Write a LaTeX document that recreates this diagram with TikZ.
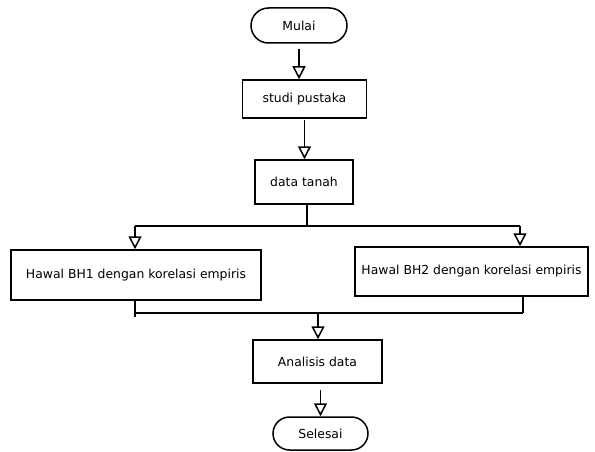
\documentclass[tikz,border=0pt]{standalone}
\usepackage{fontspec}
\setmainfont{DejaVu Sans}
\usetikzlibrary{arrows.meta, positioning, shapes.misc}

\begin{document}
\begin{tikzpicture}[x=1pt, y=-1pt,
    proc/.style={draw, line width=1.5pt, inner sep=0pt, font=\fontsize{12.4}{14}\selectfont},
    term/.style={proc, rounded rectangle},
    flow/.style={line width=1.5pt, -{Triangle[open, length=13pt, width=13pt, line width=1.5pt]}},
    link/.style={line width=1.5pt}]
  \useasboundingbox (0,0) rectangle (595,452);

  % Boxes
  \node[term, minimum width=96pt, minimum height=35pt] (mulai) at (299,25.5) {Mulai};
  \node[proc, minimum width=124pt, minimum height=38pt] (studi) at (304.5,99) {studi pustaka};
  \node[proc, minimum width=98pt, minimum height=44pt] (tanah) at (304,182) {data tanah};
  \node[proc, minimum width=250pt, minimum height=50pt] (bhA) at (136,275)
    {Hawal BH1 dengan korelasi empiris};
  \node[proc, minimum width=233pt, minimum height=49pt] (bhB) at (471.5,271.5)
    {Hawal BH2 dengan korelasi empiris};
  \node[proc, minimum width=129pt, minimum height=43pt] (analisis) at (317.5,361.5) {Analisis data};
  \node[term, minimum width=95pt, minimum height=33pt] (selesai) at (320.5,433.5) {Selesai};

  % Branch and join points
  \coordinate (split) at (307,226);
  \coordinate (splitA) at (135,226);
  \coordinate (splitB) at (520,226);
  \coordinate (joinA) at (135,313);
  \coordinate (tailA) at (135,317);
  \coordinate (joinB) at (523,313);
  \coordinate (join) at (318,313);

  % Main line
  \draw[flow, shorten <=5pt] (mulai.south) -- (mulai.south |- studi.north);
  \draw[flow, shorten <=1pt] (studi.south) -- (studi.south |- tanah.north);
  \draw[link] (tanah.south -| split) -- (split);

  % Split to both boreholes
  \draw[link] (splitA) -- (splitB);
  \draw[flow] (splitA) -- (splitA |- bhA.north);
  \draw[flow] (splitB) -- (splitB |- bhB.north);

  % Join
  \draw[link] (bhA.south -| tailA) -- (tailA);
  \draw[link] (bhB.south -| joinB) -- (joinB);
  \draw[link] (joinA) -- (joinB);
  \draw[flow] (join) -- (join |- analisis.north);
  \draw[flow, shorten <=6pt] (analisis.south -| selesai.north) -- (selesai.north);
\end{tikzpicture}
\end{document}
